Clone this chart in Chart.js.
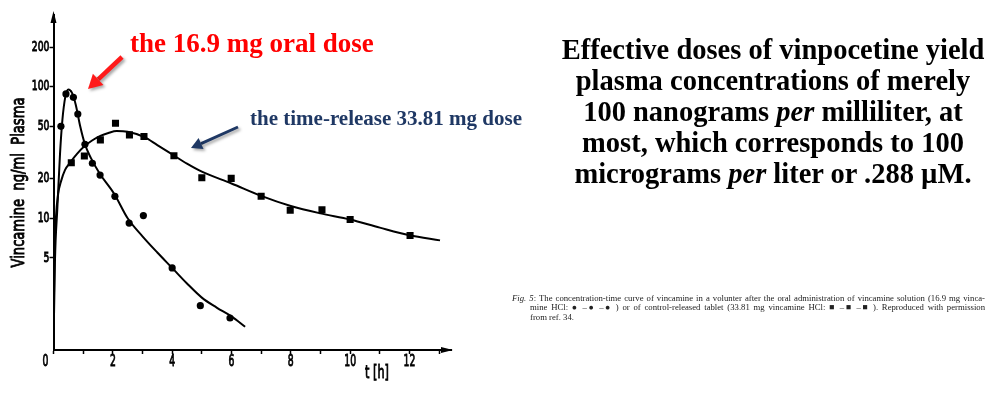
<!DOCTYPE html>
<html>
<head>
<meta charset="utf-8">
<script src="https://cdn.jsdelivr.net/npm/chart.js@4.4.1/dist/chart.umd.min.js"></script>
<style>
  html, body { margin: 0; padding: 0; background: #fff; }
  #wrap { position: relative; width: 1000px; height: 395px; overflow: hidden; }
  #chart { position: absolute; left: 0; top: 0; }
  .note {
    position: absolute; left: 523px; top: 34px; width: 500px;
    font: bold 28.5px "Liberation Serif", "Times New Roman", serif;
    line-height: 31px; text-align: center; color: #000;
  }
  .note i { font-style: italic; }
  .caption { position: absolute; font: 8.7px "Liberation Serif", "Times New Roman", serif; color: #222; }
  .caption div { height: 9.4px; line-height: 9.4px; white-space: nowrap; }
  .caption .j { text-align: justify; text-align-last: justify; white-space: normal; }
</style>
</head>
<body>
<div id="wrap">
  <canvas id="chart" width="1000" height="395"></canvas>
  <div class="note">Effective doses of vinpocetine yield<br>plasma concentrations of merely<br>100 nanograms <i>per</i> milliliter, at<br>most, which corresponds to 100<br>micrograms <i>per</i> liter or .288 µM.</div>
  <div class="caption" style="left:512px; top:294px; width:473px;">
    <div class="j"><i>Fig. 5</i>: The concentration-time curve of vincamine in a volunter after the oral administration of vincamine solution (16.9 mg vinca-</div>
  </div>
  <div class="caption" style="left:530px; top:303.4px; width:455px;">
    <div class="j">mine HCl: ● –● –● ) or of control-released tablet (33.81 mg vincamine HCl: ■ –■ –■ ). Reproduced with permission</div>
    <div>from ref. 34.</div>
  </div>
</div>
<script>
// measured points - 16.9 mg oral solution (circles)
const oralHours = [0.25, 0.42, 0.67, 0.82, 1.06, 1.31, 1.57, 2.07, 2.55, 3.03, 4.0, 4.95, 5.95];
const oralConc  = [50, 88, 83, 62, 36.5, 26.2, 21.3, 14.7, 9.2, 10.5, 4.2, 2.17, 1.75];

// measured points - 33.81 mg time-release tablet (squares)
const releaseHours = [0.6, 1.04, 1.58, 2.09, 2.56, 3.05, 4.06, 5.0, 5.99, 7.0, 7.98, 9.05, 10.0, 12.02];
const releaseConc  = [26.4, 29.7, 39.4, 52.8, 43, 41.8, 29.9, 20.3, 20.1, 14.7, 11.5, 11.6, 9.8, 7.4];

// fitted curves
const oralCurveHours = [0, 0.05, 0.13, 0.22, 0.3, 0.4, 0.5, 0.62, 0.75, 0.9, 1.06, 1.25, 1.55, 2.05, 2.5, 3.0, 3.5, 4.0, 4.5, 5.0, 5.5, 6.0, 6.46];
const oralCurveConc  = [1.05, 4.8, 12, 31, 56, 84, 95, 90, 73, 50, 36.5, 29, 22, 15.3, 10, 7.3, 5.5, 4.2, 3.2, 2.5, 2.1, 1.8, 1.5];
const releaseCurveHours = [0, 0.03, 0.08, 0.16, 0.25, 0.39, 0.56, 0.8, 1.06, 1.3, 1.58, 1.85, 2.13, 2.5, 3.05, 3.5, 4.06, 4.5, 5.0, 6.0, 7.0, 8.0, 9.0, 10.0, 11.0, 12.0, 13.03];
const releaseCurveConc  = [1.05, 5, 10, 15.5, 19, 23.3, 26.5, 31, 35.5, 39, 42.3, 44.5, 46, 45.5, 41.5, 36, 30, 26, 22.6, 18.4, 14.8, 12.4, 10.9, 9.8, 8.5, 7.45, 6.8];

// axes
const xTickValues = [0, 1, 2, 3, 4, 5, 6, 7, 8, 9, 10, 11, 12, 13];
const xLabelValues = [2, 4, 6, 8, 10, 12];
const yTickValues = [5, 10, 20, 50, 100, 200];

const labelFont = '"DejaVu Sans", "Liberation Sans", sans-serif';

function pairs(xs, ys) {
    return xs.map((x, i) => ({ x: x, y: ys[i] }));
}

// the figure uses a condensed, medium-weight sans: squeeze regular text and thicken it a bit
function drawNarrow(ctx, text, x, y, size, sx, align) {
    ctx.save();
    ctx.font = size + 'px ' + labelFont;
    ctx.textBaseline = 'middle';
    ctx.textAlign = align;
    ctx.translate(x, y);
    ctx.scale(sx, 1);
    ctx.fillStyle = '#000';
    ctx.strokeStyle = '#000';
    ctx.lineWidth = 0.9;
    ctx.fillText(text, 0, 0);
    ctx.strokeText(text, 0, 0);
    ctx.restore();
}

// arrow with a solid head
function drawArrow(ctx, x1, y1, x2, y2, color, width, head) {
    const a = Math.atan2(y2 - y1, x2 - x1);
    const bx = x2 - head * Math.cos(a);
    const by = y2 - head * Math.sin(a);
    ctx.strokeStyle = color;
    ctx.fillStyle = color;
    ctx.lineWidth = width;
    ctx.beginPath();
    ctx.moveTo(x1, y1);
    ctx.lineTo(bx, by);
    ctx.stroke();
    ctx.beginPath();
    ctx.moveTo(x2, y2);
    ctx.lineTo(bx + head * 0.55 * Math.sin(a), by - head * 0.55 * Math.cos(a));
    ctx.lineTo(bx - head * 0.55 * Math.sin(a), by + head * 0.55 * Math.cos(a));
    ctx.closePath();
    ctx.fill();
}

// extra drawing: tick labels, axis arrows, titles, annotations
const decorPlugin = {
    id: 'decor',
    afterDraw(chart) {
        const ctx = chart.ctx;
        const area = chart.chartArea;
        const xs = chart.scales.x;
        const ys = chart.scales.y;
        ctx.save();
        ctx.fillStyle = '#000';

        // axis arrowheads
        ctx.beginPath();
        ctx.moveTo(area.left, area.top - 4);
        ctx.lineTo(area.left - 3, area.top + 8);
        ctx.lineTo(area.left + 3, area.top + 8);
        ctx.closePath();
        ctx.fill();
        ctx.beginPath();
        ctx.moveTo(area.right + 2, area.bottom);
        ctx.lineTo(area.right - 10, area.bottom - 3);
        ctx.lineTo(area.right - 10, area.bottom + 3);
        ctx.closePath();
        ctx.fill();

        // tick labels
        yTickValues.forEach(v => {
            drawNarrow(ctx, String(v), area.left - 4, ys.getPixelForValue(v), 14, 0.66, 'right');
        });
        xLabelValues.forEach(v => {
            drawNarrow(ctx, String(v), xs.getPixelForValue(v), area.bottom + 12, 16, 0.58, 'center');
        });
        drawNarrow(ctx, '0', area.left - 8, area.bottom + 12, 16, 0.58, 'center');

        // axis titles
        ctx.font = '17px ' + labelFont;
        const yTitle = 'Vincamine  ng/ml  Plasma';
        const ySx = 170 / ctx.measureText(yTitle).width;
        ctx.save();
        ctx.translate(20, (area.top + area.bottom) / 2);
        ctx.rotate(-Math.PI / 2);
        drawNarrow(ctx, yTitle, 0, 0, 17, ySx, 'center');
        ctx.restore();
        drawNarrow(ctx, 't [h]', 377, 374, 17, 0.66, 'center');

        // annotations
        ctx.textAlign = 'left';
        ctx.textBaseline = 'alphabetic';
        ctx.font = 'bold 27px "Liberation Serif", "Times New Roman", serif';
        ctx.fillStyle = '#ff0000';
        ctx.fillText('the 16.9 mg oral dose', 130, 52);
        ctx.font = 'bold 21px "Liberation Serif", "Times New Roman", serif';
        ctx.fillStyle = '#1f3864';
        ctx.fillText('the time-release 33.81 mg dose', 250, 125);

        ctx.shadowColor = 'rgba(0, 0, 0, 0.35)';
        ctx.shadowOffsetX = 2;
        ctx.shadowOffsetY = 2;
        ctx.shadowBlur = 3;
        drawArrow(ctx, 122, 57, 88, 89, '#ff1a1a', 4.5, 14);
        drawArrow(ctx, 238, 127, 191, 148, '#1f3864', 3, 11);
        ctx.restore();
    }
};

const ctx = document.getElementById('chart');

new Chart(ctx, {
    type: 'scatter',
    data: {
        datasets: [
            {
                label: 'oral points',
                data: pairs(oralHours, oralConc),
                pointStyle: 'circle',
                pointRadius: 3.6,
                backgroundColor: '#000',
                borderWidth: 0,
                order: 0
            },
            {
                label: 'release points',
                data: pairs(releaseHours, releaseConc),
                pointStyle: 'rect',
                pointRadius: 5,
                backgroundColor: '#000',
                borderWidth: 0,
                order: 0
            },
            {
                label: 'oral curve',
                data: pairs(oralCurveHours, oralCurveConc),
                showLine: true,
                pointRadius: 0,
                borderColor: '#000',
                borderWidth: 2,
                cubicInterpolationMode: 'monotone',
                order: 1
            },
            {
                label: 'release curve',
                data: pairs(releaseCurveHours, releaseCurveConc),
                showLine: true,
                pointRadius: 0,
                borderColor: '#000',
                borderWidth: 2,
                cubicInterpolationMode: 'monotone',
                order: 1
            }
        ]
    },
    options: {
        responsive: false,
        animation: false,
        events: [],
        layout: {
            padding: { left: 0, right: 549, top: 15, bottom: 0 }
        },
        plugins: {
            legend: { display: false },
            tooltip: { enabled: false }
        },
        scales: {
            x: {
                type: 'linear',
                min: 0,
                max: 13.4,
                afterBuildTicks: (scale) => {
                    scale.ticks = xTickValues.map(v => ({ value: v }));
                },
                afterFit: (scale) => { scale.height = 45; },
                border: { color: '#000', width: 2 },
                grid: { drawOnChartArea: false, tickLength: 4, color: '#000', tickWidth: 1.5 },
                ticks: { autoSkip: false, maxRotation: 0, callback: () => '' }
            },
            y: {
                type: 'logarithmic',
                min: 1,
                max: 350,
                afterBuildTicks: (scale) => {
                    scale.ticks = yTickValues.map(v => ({ value: v }));
                },
                afterFit: (scale) => { scale.width = 53.5; },
                border: { color: '#000', width: 2 },
                grid: { drawOnChartArea: false, tickLength: 4, color: '#000', tickWidth: 1.5 },
                ticks: { autoSkip: false, callback: () => '' }
            }
        }
    },
    plugins: [decorPlugin]
});
</script>
</body>
</html>
